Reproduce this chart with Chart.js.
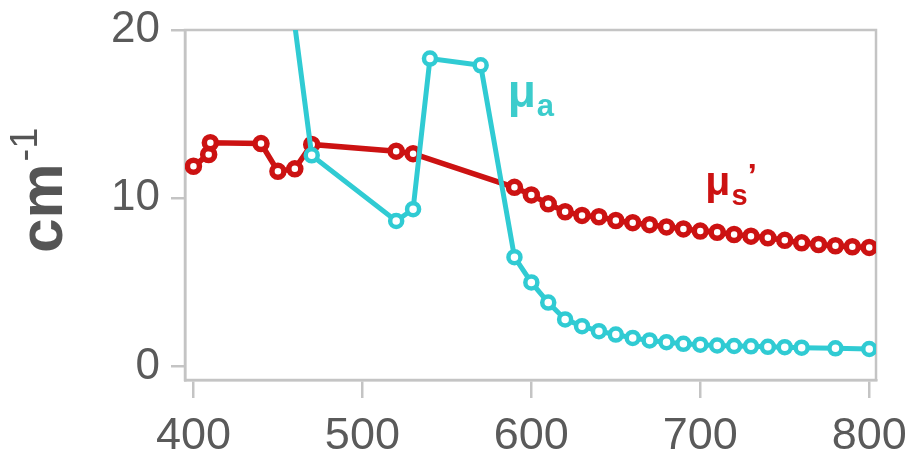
<!DOCTYPE html>
<html>
<head>
<meta charset="utf-8">
<script src="https://cdn.jsdelivr.net/npm/chart.js@4.4.1/dist/chart.umd.min.js"></script>
<style>
    html, body { margin: 0; padding: 0; background: #fff; }
    #wrap { width: 910px; height: 461px; position: relative; }
</style>
</head>
<body>
<div id="wrap"><canvas id="muChart"></canvas></div>
<script>
// wavelengths (nm) and coefficients (cm-1)
const lambdaS = [400, 409, 410, 440, 450, 460, 470, 520, 530,
    590, 600, 610, 620, 630, 640, 650, 660, 670, 680, 690, 700,
    710, 720, 730, 740, 750, 760, 770, 780, 790, 800];
const muS = [11.9, 12.6, 13.3, 13.25, 11.6, 11.75, 13.2, 12.8, 12.65,
    10.65, 10.2, 9.67, 9.2, 8.98, 8.9, 8.68, 8.55, 8.43, 8.3, 8.18, 8.05,
    7.98, 7.85, 7.75, 7.65, 7.5, 7.35, 7.25, 7.18, 7.12, 7.08];

const lambdaA = [450, 470, 520, 530, 540, 570,
    590, 600, 610, 620, 630, 640, 650, 660, 670, 680, 690, 700,
    710, 720, 730, 740, 750, 760, 780, 800];
const muA = [28, 12.55, 8.65, 9.35, 18.3, 17.9,
    6.5, 5.0, 3.8, 2.8, 2.4, 2.1, 1.9, 1.7, 1.55, 1.45, 1.35, 1.3,
    1.25, 1.22, 1.2, 1.17, 1.15, 1.12, 1.08, 1.04];

const xTicks = [400, 500, 600, 700, 800];
const yTicks = [0, 10, 20];

(function() {
    Chart.defaults.font.family = "'Liberation Sans', Arial, sans-serif";

    const colors = {
        red: '#cc1212',
        cyan: '#30cbd3',
        cyanText: '#3ccccc',
        frame: '#c4c4c4',
        text: '#5a5a5a',
        title: '#555555'
    };
    const narrow = "'Liberation Sans Narrow', 'Liberation Sans', Arial, sans-serif";

    const toPoints = (xs, ys) => xs.map((x, i) => ({ x: x, y: ys[i] }));

    // labels may hang over the plot edges, keep the plot box fixed
    const noScalePadding = scale => {
        scale.paddingLeft = 0;
        scale.paddingRight = 0;
        scale.paddingTop = 0;
        scale.paddingBottom = 0;
    };

    // box round the plot area
    const framePlugin = {
        id: 'frame',
        beforeDatasetsDraw(chart) {
            const a = chart.chartArea;
            const ctx = chart.ctx;
            ctx.save();
            ctx.strokeStyle = colors.frame;
            ctx.lineWidth = 2.5;
            ctx.strokeRect(a.left, a.top, a.right - a.left, a.bottom - a.top);
            ctx.restore();
        }
    };

    // mu_a / mu_s' labels and rotated cm-1 title
    const labelPlugin = {
        id: 'labels',
        afterDraw(chart) {
            const ctx = chart.ctx;
            const xs = chart.scales.x, ys = chart.scales.y;
            ctx.save();
            ctx.textAlign = 'left';
            ctx.textBaseline = 'alphabetic';

            // mu_a
            let px = xs.getPixelForValue(586), py = ys.getPixelForValue(15.4);
            ctx.fillStyle = colors.cyanText;
            ctx.font = 'bold 46px ' + narrow;
            ctx.fillText('\u03bc', px, py);
            let w = ctx.measureText('\u03bc').width;
            ctx.font = 'bold 31px ' + narrow;
            ctx.fillText('a', px + w + 1, py + 9);

            // mu_s'
            px = xs.getPixelForValue(703);
            py = ys.getPixelForValue(10.2);
            ctx.fillStyle = colors.red;
            ctx.font = 'bold 41px ' + narrow;
            ctx.fillText('\u03bc', px, py);
            w = ctx.measureText('\u03bc').width;
            ctx.font = 'bold 29px ' + narrow;
            ctx.fillText('s', px + w + 1, py + 10);
            const ws = ctx.measureText('s').width;
            ctx.font = 'bold 34px ' + narrow;
            ctx.fillText('\u2019', px + w + ws + 1, py - 8);

            // y title
            ctx.fillStyle = colors.title;
            ctx.translate(62, 253);
            ctx.rotate(-Math.PI / 2);
            ctx.font = 'bold 62px ' + Chart.defaults.font.family;
            ctx.fillText('cm', 0, 0);
            w = ctx.measureText('cm').width;
            ctx.font = '38px ' + Chart.defaults.font.family;
            ctx.fillText('-1', w + 2, -25);
            ctx.restore();
        }
    };

    function initChart() {
        const el = document.getElementById('muChart');
        new Chart(el, {
            type: 'line',
            data: {
                datasets: [
                    {
                        label: '\u03bca',
                        data: toPoints(lambdaA, muA),
                        borderColor: colors.cyan,
                        borderWidth: 5,
                        pointRadius: 6,
                        pointBorderWidth: 4.5,
                        pointBackgroundColor: '#fff',
                        pointBorderColor: colors.cyan,
                        tension: 0
                    },
                    {
                        label: "\u03bcs'",
                        data: toPoints(lambdaS, muS),
                        borderColor: colors.red,
                        borderWidth: 5.5,
                        pointRadius: 6,
                        pointBorderWidth: 5.5,
                        pointBackgroundColor: '#fff',
                        pointBorderColor: colors.red,
                        tension: 0
                    }
                ]
            },
            options: {
                responsive: true,
                maintainAspectRatio: false,
                animation: false,
                layout: { padding: { top: 30, right: 34, left: 0, bottom: 0 } },
                plugins: {
                    legend: { display: false },
                    tooltip: { enabled: false }
                },
                scales: {
                    x: {
                        type: 'linear',
                        min: 395,
                        max: 804,
                        afterBuildTicks: axis => { axis.ticks = xTicks.map(v => ({ value: v })); },
                        afterFit: scale => { scale.height = 81; noScalePadding(scale); },
                        grid: {
                            drawOnChartArea: false,
                            drawTicks: true,
                            tickLength: 18,
                            color: colors.frame,
                            lineWidth: 2.5
                        },
                        border: { display: true, color: colors.frame, width: 2.5 },
                        ticks: {
                            color: colors.text,
                            font: { size: 45 },
                            padding: 12,
                            maxRotation: 0,
                            autoSkip: false
                        }
                    },
                    y: {
                        min: -0.8,
                        max: 20,
                        afterBuildTicks: axis => { axis.ticks = yTicks.map(v => ({ value: v })); },
                        afterFit: scale => { scale.width = 185; noScalePadding(scale); },
                        grid: {
                            drawOnChartArea: false,
                            drawTicks: true,
                            tickLength: 14,
                            color: colors.frame,
                            lineWidth: 2.5
                        },
                        border: { display: true, color: colors.frame, width: 2.5 },
                        ticks: {
                            color: colors.text,
                            font: { size: 44 },
                            padding: 11,
                            autoSkip: false
                        }
                    }
                }
            },
            plugins: [framePlugin, labelPlugin]
        });
    }

    if (document.readyState === 'loading') {
        document.addEventListener('DOMContentLoaded', initChart);
    } else {
        initChart();
    }
})();
</script>
</body>
</html>
